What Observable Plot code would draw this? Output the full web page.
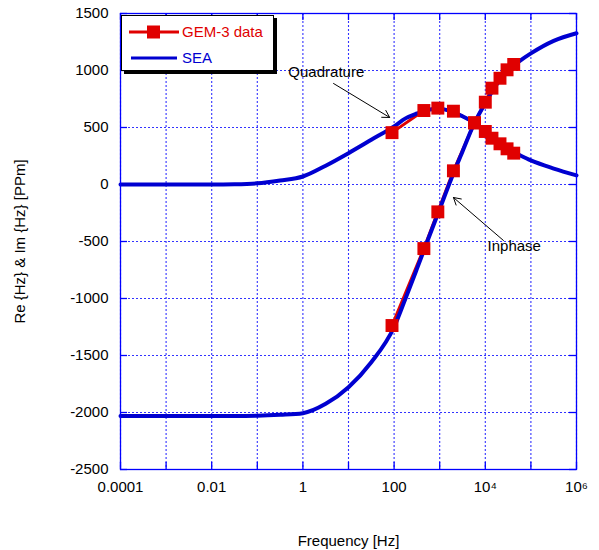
<!DOCTYPE html>
<html><head><meta charset="utf-8">
<script src="https://cdn.jsdelivr.net/npm/d3@7"></script>
<script src="https://cdn.jsdelivr.net/npm/@observablehq/plot@0.6"></script>
<style>
body{margin:0;background:#fff;}
#wrap{position:relative;width:599px;height:550px;font-family:"Liberation Sans",Arial,sans-serif;}
#legend{position:absolute;left:121px;top:15px;width:151px;height:54px;background:#fff;border:1px solid #000;box-shadow:3px 3px 0 #000;}
</style></head><body><div id="wrap"></div>
<script>
// GEM-3 measured data
const gemFreq = [90, 450, 910, 2000, 5800, 10000, 14000, 21000, 30000, 42000];
const gemQuad = [455, 649, 670, 643, 541, 465, 406, 357, 313, 275];
const gemInph = [-1237, -562, -240, 120, 541, 722, 845, 932, 1006, 1053];
// SEA model (log10 frequency samples)
const seaLogFreq = [-4, -3, -2, -1.5, -1, -0.5, 0, 0.5, 1, 1.5, 2, 2.25, 2.5, 2.75, 3, 3.25, 3.5, 3.75, 4, 4.25, 4.5, 4.75, 5, 5.5, 6];
const seaQuad = [0, 0, 0, 2, 10, 35, 70, 165, 275, 392, 510, 580, 623, 656, 665, 642, 598, 544, 460, 378, 308, 258, 211, 140, 80];
const seaInph = [-2030, -2030, -2030, -2030, -2028, -2020, -2006, -1924, -1778, -1559, -1250, -1000, -740, -476, -215, 45, 290, 530, 715, 878, 1000, 1082, 1150, 1260, 1327];
// ticks
const xTickValues = [1e-4, 1e-2, 1, 1e2, 1e4, 1e6];
const xTickLabels = ["0.0001", "0.01", "1", "100", "10\u2074", "10\u2076"];
const xDecades = [1e-4, 1e-3, 1e-2, 1e-1, 1, 10, 100, 1e3, 1e4, 1e5, 1e6];
const yTicks = [-2500, -2000, -1500, -1000, -500, 0, 500, 1000, 1500];

const RED = "#e00000", BLUE = "#0000d0", GRID = "#0000ff";
const FW = 599 - 120 - 23, FH = 550 - 13 - 81, TL = 7;

const gem = gemFreq.map((f, i) => ({f, q: gemQuad[i], p: gemInph[i]}));
const sea = seaLogFreq.map((l, i) => ({f: Math.pow(10, l), q: seaQuad[i], p: seaInph[i]}));
const tickOpts = {stroke: GRID, strokeWidth: 1.3};
const gridOpts = {stroke: "#3333ff", strokeWidth: 1.1, strokeDasharray: "2 2"};

const chart = Plot.plot({
  width: 599, height: 550,
  marginLeft: 120, marginRight: 23, marginTop: 13, marginBottom: 81,
  style: {fontFamily: "'Liberation Sans', Arial, sans-serif", fontSize: "15px", color: "black", background: "white"},
  x: {type: "log", domain: [1e-4, 1e6]},
  y: {domain: [-2500, 1500]},
  marks: [
    Plot.ruleX(xDecades, gridOpts),
    Plot.ruleY(yTicks, gridOpts),
    Plot.ruleX(xDecades, {...tickOpts, insetTop: FH - TL}),
    Plot.ruleX(xDecades, {...tickOpts, insetBottom: FH - TL}),
    Plot.ruleY(yTicks, {...tickOpts, insetRight: FW - TL}),
    Plot.ruleY(yTicks, {...tickOpts, insetLeft: FW - TL}),
    Plot.line(gem, {x: "f", y: "q", stroke: RED, strokeWidth: 3}),
    Plot.line(gem, {x: "f", y: "p", stroke: RED, strokeWidth: 3}),
    Plot.line(sea, {x: "f", y: "q", stroke: BLUE, strokeWidth: 4, curve: "monotone-x"}),
    Plot.line(sea, {x: "f", y: "p", stroke: BLUE, strokeWidth: 4, curve: "monotone-x"}),
    Plot.dot(gem, {x: "f", y: "q", symbol: "square", fill: RED, r: 7.3}),
    Plot.dot(gem, {x: "f", y: "p", symbol: "square", fill: RED, r: 7.3}),
    Plot.arrow([{x1: 4.7, y1: 886, x2: 80, y2: 588}], {x1: "x1", y1: "y1", x2: "x2", y2: "y2", stroke: "black", strokeWidth: 1, headLength: 12}),
    Plot.arrow([{x1: 25000, y1: -491, x2: 2000, y2: -114}], {x1: "x1", y1: "y1", x2: "x2", y2: "y2", stroke: "black", strokeWidth: 1, headLength: 12}),
    Plot.text([{x: 0.48, y: 982, t: "Quadrature"}], {x: "x", y: "y", text: "t", textAnchor: "start", fill: "black", fontSize: 15}),
    Plot.text([{x: 11200, y: -544, t: "Inphase"}], {x: "x", y: "y", text: "t", textAnchor: "start", fill: "black", fontSize: 15}),
    Plot.axisX(xTickValues, {tickSize: 0, tickPadding: 12, fontSize: 15, tickFormat: d => xTickLabels[xTickValues.indexOf(d)], label: "Frequency [Hz]", labelAnchor: "center", labelArrow: "none", labelOffset: 76}),
    Plot.axisY(yTicks, {tickSize: 0, tickPadding: 12, fontSize: 15, tickFormat: d => String(d), label: "Re {Hz} & Im {Hz} [PPm]", labelAnchor: "center", labelArrow: "none", labelOffset: 106}),
    Plot.frame({stroke: GRID, strokeWidth: 1.3})
  ]
});
const wrap = document.getElementById("wrap");
wrap.appendChild(chart);
const leg = document.createElement("div");
leg.id = "legend";
leg.innerHTML = `<svg width="151" height="54" style="font-family:'Liberation Sans',Arial,sans-serif;font-size:15px">
  <line x1="7" x2="57" y1="16" y2="16" stroke="${RED}" stroke-width="3"/>
  <rect x="25" y="9.5" width="13" height="13" fill="${RED}"/>
  <text x="60" y="16" dy="0.35em" fill="${RED}">GEM-3 data</text>
  <line x1="9" x2="55" y1="42" y2="42" stroke="${BLUE}" stroke-width="3"/>
  <text x="60" y="42" dy="0.35em" fill="${BLUE}">SEA</text>
</svg>`;
wrap.appendChild(leg);
</script></body></html>
